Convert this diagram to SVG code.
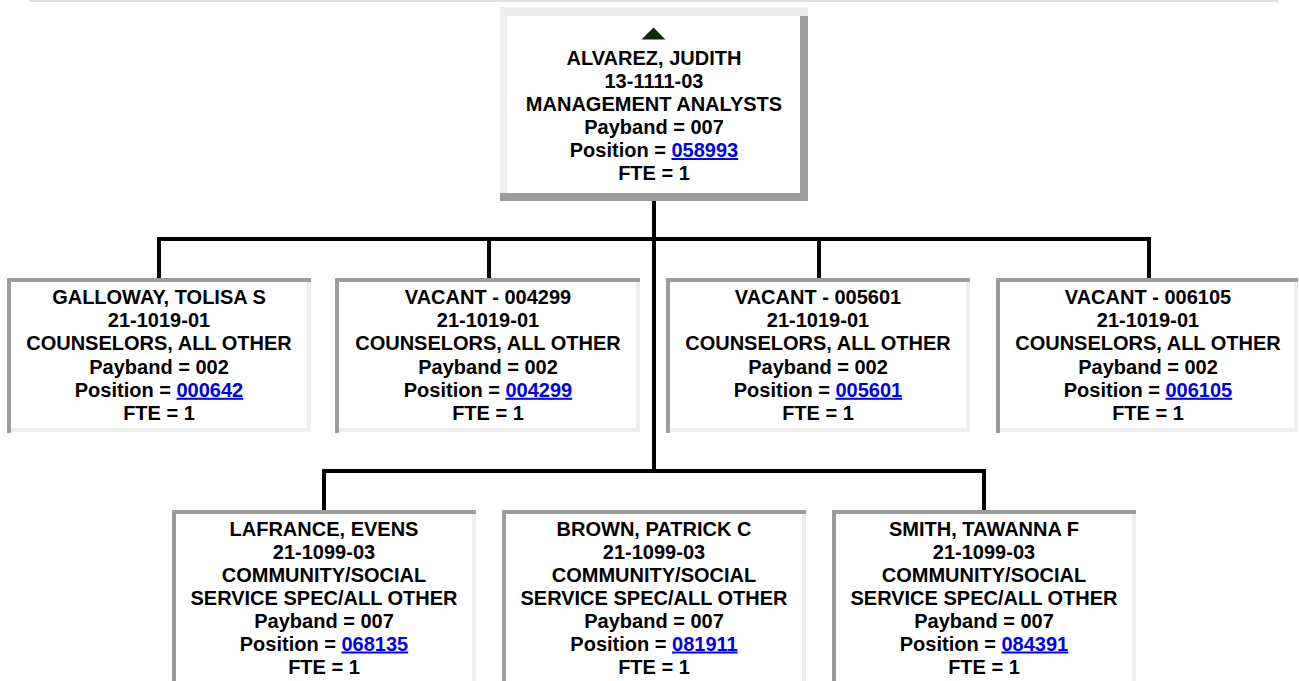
<svg xmlns="http://www.w3.org/2000/svg" width="1299" height="681" viewBox="0 0 1299 681">
<style>
  text { font-family: "Liberation Sans", Arial, sans-serif; font-weight: bold; font-size: 20px; fill: #000; text-anchor: middle; }
  .lnk { fill: #0000ee; text-decoration: underline; }
  .dk { fill: #9c9c9c; }
  .lt { fill: #eeeeee; }
  .conn { stroke: #000; stroke-width: 4; fill: none; stroke-linecap: square; }
</style>
<rect x="0" y="0" width="1299" height="681" fill="#fff"/>
<rect x="29" y="0" width="1249" height="2" fill="#e0e0e0"/>

<g id="connectors">
  <path class="conn" d="M654 203 V471"/>
  <path class="conn" d="M159 239 H1149"/>
  <path class="conn" d="M159 239 V278 M489 239 V278 M819 239 V278 M1149 239 V278"/>
  <path class="conn" d="M324 471 H984"/>
  <path class="conn" d="M324 471 V510 M984 471 V510"/>
</g>

<g id="node-alvarez">
  <rect x="500" y="7" width="308" height="194" fill="#fff"/>
  <rect class="lt" x="500" y="7" width="308" height="9"/>
  <rect class="lt" x="500" y="7" width="7" height="186"/>
  <rect class="dk" x="800" y="16" width="8" height="185"/>
  <rect class="dk" x="500" y="193" width="308" height="8"/>
  <polygon points="653.5,27.5 641.5,39.5 665.5,39.5" fill="#0b2a10"/>
  <text x="654" y="65">ALVAREZ, JUDITH</text>
  <text x="654" y="88">13-1111-03</text>
  <text x="654" y="111">MANAGEMENT ANALYSTS</text>
  <text x="654" y="134">Payband = 007</text>
  <text x="654" y="157">Position = <tspan class="lnk">058993</tspan></text>
  <text x="654" y="180">FTE = 1</text>
</g>

<g id="node-galloway">
  <rect x="7" y="278" width="304" height="154" fill="#fff"/>
  <rect class="dk" x="7" y="278" width="304" height="4"/>
  <rect class="dk" x="7" y="278" width="4" height="155"/>
  <rect class="lt" x="307" y="282" width="4" height="150"/>
  <rect class="lt" x="11" y="428" width="300" height="4"/>
  <text x="159" y="304">GALLOWAY, TOLISA S</text>
  <text x="159" y="327.2">21-1019-01</text>
  <text x="159" y="350.4">COUNSELORS, ALL OTHER</text>
  <text x="159" y="373.6">Payband = 002</text>
  <text x="159" y="396.8">Position = <tspan class="lnk">000642</tspan></text>
  <text x="159" y="420">FTE = 1</text>
</g>

<g id="node-vacant-004299">
  <rect x="335" y="278" width="305" height="154" fill="#fff"/>
  <rect class="dk" x="335" y="278" width="305" height="4"/>
  <rect class="dk" x="335" y="278" width="4" height="155"/>
  <rect class="lt" x="636" y="282" width="4" height="150"/>
  <rect class="lt" x="339" y="428" width="301" height="4"/>
  <text x="488" y="304">VACANT - 004299</text>
  <text x="488" y="327.2">21-1019-01</text>
  <text x="488" y="350.4">COUNSELORS, ALL OTHER</text>
  <text x="488" y="373.6">Payband = 002</text>
  <text x="488" y="396.8">Position = <tspan class="lnk">004299</tspan></text>
  <text x="488" y="420">FTE = 1</text>
</g>

<g id="node-vacant-005601">
  <rect x="666" y="278" width="304" height="154" fill="#fff"/>
  <rect class="dk" x="666" y="278" width="304" height="4"/>
  <rect class="dk" x="666" y="278" width="4" height="155"/>
  <rect class="lt" x="966" y="282" width="4" height="150"/>
  <rect class="lt" x="670" y="428" width="300" height="4"/>
  <text x="818" y="304">VACANT - 005601</text>
  <text x="818" y="327.2">21-1019-01</text>
  <text x="818" y="350.4">COUNSELORS, ALL OTHER</text>
  <text x="818" y="373.6">Payband = 002</text>
  <text x="818" y="396.8">Position = <tspan class="lnk">005601</tspan></text>
  <text x="818" y="420">FTE = 1</text>
</g>

<g id="node-vacant-006105">
  <rect x="996" y="278" width="302" height="154" fill="#fff"/>
  <rect class="dk" x="996" y="278" width="302" height="4"/>
  <rect class="dk" x="996" y="278" width="4" height="155"/>
  <rect class="lt" x="1294" y="282" width="4" height="150"/>
  <rect class="lt" x="1000" y="428" width="298" height="4"/>
  <text x="1148" y="304">VACANT - 006105</text>
  <text x="1148" y="327.2">21-1019-01</text>
  <text x="1148" y="350.4">COUNSELORS, ALL OTHER</text>
  <text x="1148" y="373.6">Payband = 002</text>
  <text x="1148" y="396.8">Position = <tspan class="lnk">006105</tspan></text>
  <text x="1148" y="420">FTE = 1</text>
</g>

<g id="node-lafrance">
  <rect x="172" y="510" width="304" height="171" fill="#fff"/>
  <rect class="dk" x="172" y="510" width="304" height="4"/>
  <rect class="dk" x="172" y="510" width="4" height="171"/>
  <rect class="lt" x="472" y="514" width="4" height="167"/>
  <text x="324" y="535.5">LAFRANCE, EVENS</text>
  <text x="324" y="558.5">21-1099-03</text>
  <text x="324" y="581.5">COMMUNITY/SOCIAL</text>
  <text x="324" y="604.5">SERVICE SPEC/ALL OTHER</text>
  <text x="324" y="627.5">Payband = 007</text>
  <text x="324" y="650.5">Position = <tspan class="lnk">068135</tspan></text>
  <text x="324" y="673.5">FTE = 1</text>
</g>

<g id="node-brown">
  <rect x="502" y="510" width="304" height="171" fill="#fff"/>
  <rect class="dk" x="502" y="510" width="304" height="4"/>
  <rect class="dk" x="502" y="510" width="4" height="171"/>
  <rect class="lt" x="802" y="514" width="4" height="167"/>
  <text x="654" y="535.5">BROWN, PATRICK C</text>
  <text x="654" y="558.5">21-1099-03</text>
  <text x="654" y="581.5">COMMUNITY/SOCIAL</text>
  <text x="654" y="604.5">SERVICE SPEC/ALL OTHER</text>
  <text x="654" y="627.5">Payband = 007</text>
  <text x="654" y="650.5">Position = <tspan class="lnk">081911</tspan></text>
  <text x="654" y="673.5">FTE = 1</text>
</g>

<g id="node-smith">
  <rect x="832" y="510" width="304" height="171" fill="#fff"/>
  <rect class="dk" x="832" y="510" width="304" height="4"/>
  <rect class="dk" x="832" y="510" width="4" height="171"/>
  <rect class="lt" x="1132" y="514" width="4" height="167"/>
  <text x="984" y="535.5">SMITH, TAWANNA F</text>
  <text x="984" y="558.5">21-1099-03</text>
  <text x="984" y="581.5">COMMUNITY/SOCIAL</text>
  <text x="984" y="604.5">SERVICE SPEC/ALL OTHER</text>
  <text x="984" y="627.5">Payband = 007</text>
  <text x="984" y="650.5">Position = <tspan class="lnk">084391</tspan></text>
  <text x="984" y="673.5">FTE = 1</text>
</g>
</svg>
